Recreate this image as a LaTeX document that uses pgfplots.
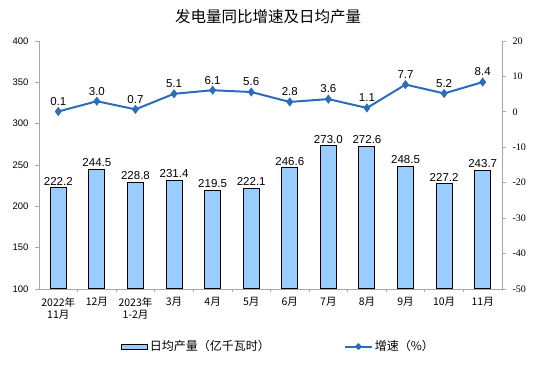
\documentclass[border=0pt]{standalone}
\usepackage{pgfplots}
\pgfplotsset{compat=1.18}
\usepackage{fontspec}
\setmainfont{Liberation Sans}
\newfontfamily\cjk{Noto Sans CJK SC}
\newfontfamily\serifnum{Liberation Serif}
\definecolor{barblue}{HTML}{99CCFF}
\definecolor{lineblue}{HTML}{2C6DB9}
\definecolor{axgray}{HTML}{A6A6A6}
\begin{document}
\begin{tikzpicture}
\path[use as bounding box] (-39pt,-90pt) rectangle (515pt,289pt);
\node[font=\cjk\fontsize{15.5pt}{17pt}\selectfont] at (229pt,272pt) {发电量同比增速及日均产量};
\begin{axis}[
  at={(0pt,0pt)}, anchor=south west,
  scale only axis, width=463pt, height=248pt,
  xmin=-0.5, xmax=11.5, ymin=100, ymax=400,
  axis y line*=left, axis x line*=bottom,
  axis line style={axgray, line width=0.8pt},
  ytick={100,150,...,400},
  y tick style={axgray, line width=0.8pt},
  tick align=outside,
  major tick length=4pt,
  yticklabel style={font=\fontsize{9.5pt}{11pt}\selectfont, xshift=-3pt},
  /pgf/number format/assume math mode=true,
  xtick={0,...,11},
  xticklabels={{2022年\\11月},12月,{2023年\\1-2月},3月,4月,5月,6月,7月,8月,9月,10月,11月},
  xticklabel style={font=\cjk\fontsize{10.5pt}{12.5pt}\selectfont, align=center, yshift=-1pt},
  major x tick style={draw=none},
  minor xtick={0.5,1.5,...,10.5},
  minor x tick style={axgray, line width=0.8pt},
  minor tick length=3pt,
  ybar, bar width=16pt,
  nodes near coords,
  nodes near coords style={font=\fontsize{11.5pt}{13pt}\selectfont, /pgf/number format/fixed, /pgf/number format/fixed zerofill, /pgf/number format/precision=1, inner sep=2pt},
  legend columns=2,
  legend style={draw=none, fill=none, at={(0.17,-0.232)}, anchor=west, font=\cjk\fontsize{12pt}{14pt}\selectfont, /tikz/every even column/.append style={column sep=72pt}},
]
\addplot[fill=barblue, draw=black, line width=1pt, legend image code/.code={\draw[fill=barblue,draw=black,line width=1pt] (0pt,-2.5pt) rectangle (26pt,2.5pt);}] coordinates {
(0,222.2) (1,244.5) (2,228.8) (3,231.4) (4,219.5) (5,222.1) (6,246.6) (7,273.0) (8,272.6) (9,248.5) (10,227.2) (11,243.7)};
\addlegendentry{日均产量（亿千瓦时）}
\addlegendimage{lineblue, line width=2pt, legend image code/.code={\draw[lineblue,line width=2pt] (0pt,0pt)--(27pt,0pt); \fill[lineblue] (13.5pt,0pt) +(-2.2pt,0)--+(0,2.2pt)--+(2.2pt,0)--+(0,-2.2pt)--cycle;}}
\addlegendentry{增速（\%）}
\end{axis}
\begin{axis}[
  at={(0pt,0pt)}, anchor=south west,
  scale only axis, width=463pt, height=248pt,
  xmin=-0.5, xmax=11.5, ymin=-50, ymax=20,
  axis y line*=right, axis x line=none,
  axis line style={axgray, line width=0.8pt},
  ytick={-50,-40,...,20},
  y tick style={axgray, line width=0.8pt},
  tick align=outside, major tick length=4pt,
  yticklabel style={font=\serifnum\fontsize{10pt}{12pt}\selectfont, xshift=3pt},
  /pgf/number format/assume math mode=true,
  nodes near coords,
  nodes near coords style={font=\fontsize{11.5pt}{13pt}\selectfont, /pgf/number format/fixed, /pgf/number format/fixed zerofill, /pgf/number format/precision=1, inner sep=5pt, black},
]
\addplot[lineblue, line width=2pt, mark=diamond*, mark size=3pt, mark options={fill=lineblue}] coordinates {
(0,0.1) (1,3.0) (2,0.7) (3,5.1) (4,6.1) (5,5.6) (6,2.8) (7,3.6) (8,1.1) (9,7.7) (10,5.2) (11,8.4)};
\end{axis}
\end{tikzpicture}
\end{document}
